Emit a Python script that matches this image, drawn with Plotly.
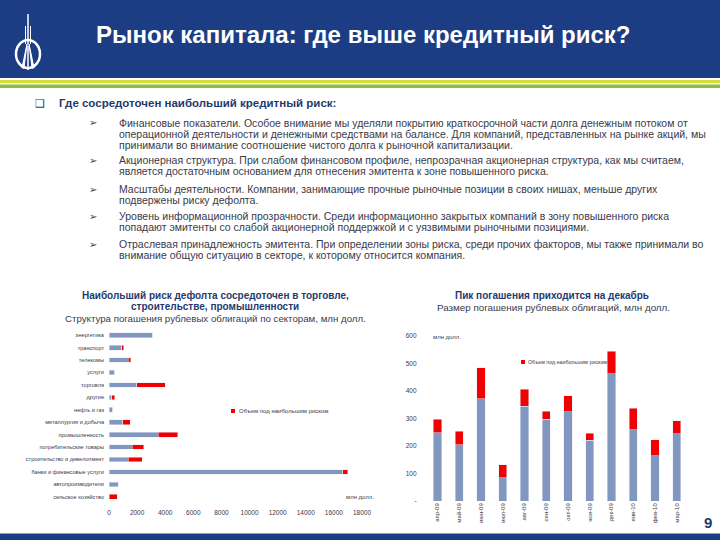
import plotly.graph_objects as go

W, H = 720, 540
def X(px): return px / W
def Y(py): return 1 - py / H

NAVY = "#1C3D84"
BLUE = "#8197C0"
RED = "#F00000"
TXT = "#3A3A4A"
HEAD = "#1F3A6E"

# ---------------- data ----------------
sectors = ["энергетика", "транспорт", "телекомы", "услуги", "торговля", "другие",
           "нефть и газ", "металлургия и добыча", "промышленность",
           "потребительские товары", "строительство и девелопмент",
           "банки и финансовые услуги", "автопроизводители", "сельское хозяйство"]
sector_other = [3100, 900, 1380, 400, 1980, 190, 250, 980, 3520, 1640, 1360, 16620, 640, 0]
sector_risk = [0, 150, 170, 0, 2020, 215, 0, 520, 1380, 830, 1020, 360, 0, 570]
sector_ticks = [0, 2000, 4000, 6000, 8000, 10000, 12000, 14000, 16000, 18000]
sector_ticktext = ["0", "2000", "4000", "6000", "8000", "10000", "12000", "14000", "16000", "18000"]

months = ["апр-09", "май-09", "июн-09", "июл-09", "авг-09", "сен-09",
          "окт-09", "ноя-09", "дек-09", "янв-10", "фев-10", "мар-10"]
month_other = [248, 205, 372, 84, 344, 297, 324, 221, 462, 259, 165, 244]
month_risk = [49, 48, 112, 48, 63, 30, 58, 26, 83, 79, 58, 48]
month_tickvals = [0, 100, 200, 300, 400, 500, 600]
month_ticktext = ["-", "100", "200", "300", "400", "500", "600"]

legend_label = "Объем под наибольшим риском"

bullets = [
    ["Финансовые показатели. Особое внимание мы уделяли покрытию краткосрочной части долга денежным потоком от",
     "операционной деятельности и денежными средствами на балансе. Для компаний, представленных на рынке акций, мы",
     "принимали во внимание соотношение чистого долга к рыночной капитализации."],
    ["Акционерная структура. При слабом финансовом профиле, непрозрачная акционерная структура, как мы считаем,",
     "является достаточным основанием для отнесения эмитента к зоне повышенного риска."],
    ["Масштабы деятельности. Компании, занимающие прочные рыночные позиции в своих нишах, меньше других",
     "подвержены риску дефолта."],
    ["Уровень информационной прозрачности. Среди информационно закрытых компаний в зону повышенного риска",
     "попадают эмитенты со слабой акционерной поддержкой и с уязвимыми рыночными позициями."],
    ["Отраслевая принадлежность эмитента. При определении зоны риска, среди прочих факторов, мы также принимали во",
     "внимание общую ситуацию в секторе, к которому относится компания."],
]
bullet_y = [123, 160, 189, 216, 244]

fig = go.Figure()

fig.add_trace(go.Bar(y=sectors, x=sector_other, orientation="h", marker_color=BLUE,
                     showlegend=False, xaxis="x", yaxis="y", name="прочие"))
fig.add_trace(go.Bar(y=sectors, x=sector_risk, orientation="h", marker_color=RED,
                     showlegend=False, xaxis="x", yaxis="y", name=legend_label))
fig.add_trace(go.Bar(x=months, y=month_other, marker_color=BLUE, showlegend=False,
                     xaxis="x2", yaxis="y2", name="прочие"))
fig.add_trace(go.Bar(x=months, y=month_risk, marker_color=RED, showlegend=False,
                     xaxis="x2", yaxis="y2", name=legend_label))

FONT = "Liberation Sans, Arial, sans-serif"

fig.update_layout(
    width=W, height=H, margin=dict(l=0, r=0, t=0, b=0, autoexpand=False),
    paper_bgcolor="white", plot_bgcolor="white",
    barmode="stack", bargap=0.62,
    font=dict(family=FONT, color=TXT),
    xaxis=dict(domain=[X(109), X(362)], range=[0, 18000], tickvals=sector_ticks,
               ticktext=sector_ticktext, automargin=False,
               showgrid=False, zeroline=False, showline=False, ticks="",
               tickfont=dict(size=6.5, color=TXT), anchor="y", ticklabelstandoff=4),
    yaxis=dict(domain=[Y(503), Y(329)], autorange="reversed", showgrid=False, automargin=False,
               zeroline=False, showline=False, ticks="", tickfont=dict(size=5.6, color=TXT),
               anchor="x", ticklabelstandoff=4),
    xaxis2=dict(domain=[X(426.6), X(687.6)], showgrid=False, zeroline=False, showline=False,
                automargin=False, ticks="", tickangle=-90, tickfont=dict(size=6, color=TXT),
                anchor="y2"),
    yaxis2=dict(domain=[Y(501), Y(336)], range=[0, 600], tickvals=month_tickvals,
                ticktext=month_ticktext, showgrid=False, zeroline=False, showline=False,
                automargin=False, ticks="", tickfont=dict(size=6.5, color=TXT), anchor="x2",
                ticklabelstandoff=9),
)

shapes = [
    dict(type="rect", xref="paper", yref="paper", x0=0, x1=1, y0=Y(78), y1=1,
         fillcolor=NAVY, line_width=0, layer="below"),
    dict(type="rect", xref="paper", yref="paper", x0=0, x1=1, y0=Y(83), y1=Y(80),
         fillcolor="#D2DE3A", line_width=0),
    dict(type="rect", xref="paper", yref="paper", x0=0, x1=1, y0=Y(88), y1=Y(84.5),
         fillcolor="#8DBE42", line_width=0),
    dict(type="rect", xref="paper", yref="paper", x0=0, x1=1, y0=0, y1=Y(533.5),
         fillcolor=NAVY, line_width=0),
    # logo
    dict(type="line", xref="paper", yref="paper", x0=X(28), x1=X(28), y0=Y(44), y1=Y(14),
         line=dict(color="white", width=1.5)),
    dict(type="line", xref="paper", yref="paper", x0=X(25.5), x1=X(25.5), y0=Y(44), y1=Y(26),
         line=dict(color="white", width=1)),
    dict(type="line", xref="paper", yref="paper", x0=X(30.5), x1=X(30.5), y0=Y(44), y1=Y(26),
         line=dict(color="white", width=1)),
    dict(type="circle", xref="paper", yref="paper", x0=X(16), x1=X(40), y0=Y(68), y1=Y(40),
         line=dict(color="white", width=2.5)),
    dict(type="path", xref="paper", yref="paper",
         path=f"M {X(22)},{Y(68)} L {X(27)},{Y(44)} L {X(24)},{Y(68)} Z",
         fillcolor="white", line=dict(color="white", width=1)),
    dict(type="path", xref="paper", yref="paper",
         path=f"M {X(34)},{Y(68)} L {X(29)},{Y(44)} L {X(32)},{Y(68)} Z",
         fillcolor="white", line=dict(color="white", width=1)),
    dict(type="line", xref="paper", yref="paper", x0=X(28), x1=X(28), y0=Y(70), y1=Y(46),
         line=dict(color="white", width=1.5)),
    # legend squares
    dict(type="rect", xref="paper", yref="paper", x0=X(231), x1=X(235), y0=Y(413), y1=Y(409),
         fillcolor=RED, line_width=0),
    dict(type="rect", xref="paper", yref="paper", x0=X(521), x1=X(525), y0=Y(364), y1=Y(360),
         fillcolor=RED, line_width=0),
]

ann = []
def add(text, x, y, size, color=TXT, xanchor="left", bold=False, family=FONT):
    ann.append(dict(text=f"<b>{text}</b>" if bold else text, x=X(x), y=Y(y),
                    xref="paper", yref="paper", xanchor=xanchor, yanchor="middle",
                    showarrow=False, borderpad=0,
                    font=dict(size=size, color=color, family=family)))

add("Рынок капитала: где выше кредитный риск?", 95, 35, 24, "white", bold=True)
add("❑", 34, 103, 11, HEAD, family="DejaVu Sans")
add("Где сосредоточен наибольший кредитный риск:", 58, 103, 11.5, HEAD, bold=True)
for lines, y0 in zip(bullets, bullet_y):
    add("➢", 88, y0, 10, TXT, family="DejaVu Sans")
    for i, line in enumerate(lines):
        add(line, 118, y0 + i * 11, 10.5, TXT)

add("Наибольший риск дефолта сосредоточен в торговле,", 215, 295, 10, HEAD, "center", True)
add("строительстве, промышленности", 215, 306, 10, HEAD, "center", True)
add("Структура погашения рублевых облигаций по секторам, млн долл.", 215, 318, 9.7, TXT, "center")
add(legend_label, 238, 411, 6, TXT)
add("млн долл.", 360, 497, 6, TXT, "center")

add("Пик погашения приходится на декабрь", 552, 295, 10, HEAD, "center", True)
add("Размер погашения рублевых облигаций, млн долл.", 553, 307, 9.8, TXT, "center")
add(legend_label, 527, 362, 5.3, TXT)
add("млн долл.", 432, 337, 6, TXT)

add("9", 708, 522, 15, HEAD, "center", True)

fig.update_layout(shapes=shapes, annotations=ann)
fig.write_html("out.html", config={"displayModeBar": False},
               post_script="document.body.style.margin='0px';")
